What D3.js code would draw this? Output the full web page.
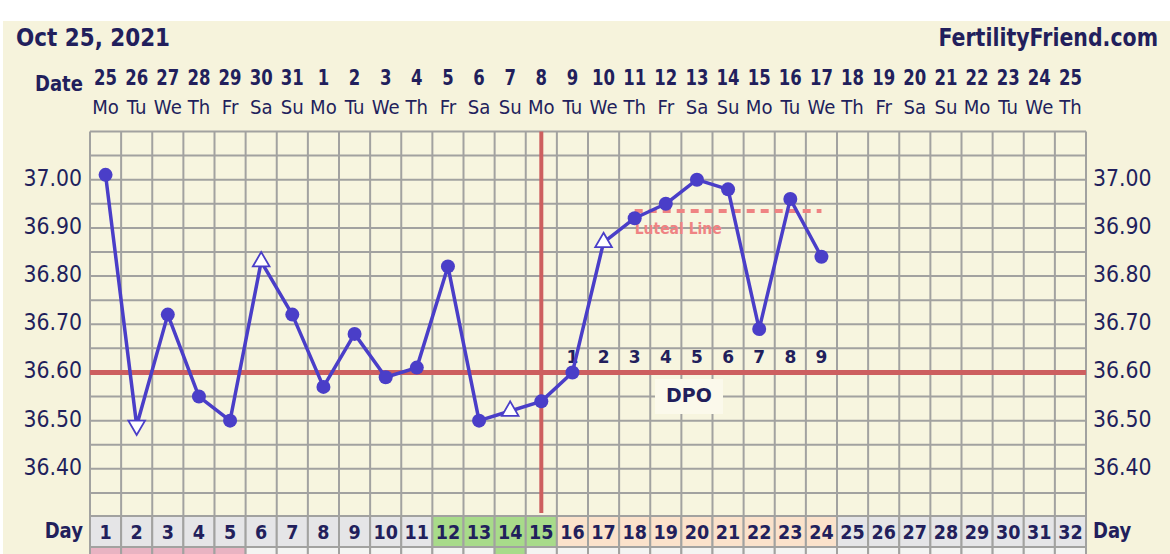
<!DOCTYPE html>
<html>
<head>
<meta charset="utf-8">
<script src="https://cdn.jsdelivr.net/npm/d3@7"></script>
<style>
  body { margin: 0; background: #fff; }
  text { font-family: "DejaVu Sans", Verdana, sans-serif; fill: #221f5c; }
</style>
</head>
<body>
<div id="chart"></div>
<script>
// chart data
var chartDate = "Oct 25, 2021";
var siteName = "FertilityFriend.com";

var cycleDays = ["1","2","3","4","5","6","7","8","9","10","11","12","13","14","15","16",
  "17","18","19","20","21","22","23","24","25","26","27","28","29","30","31","32"];
var dateLabels = ["25","26","27","28","29","30","31","1","2","3","4","5","6","7","8","9",
  "10","11","12","13","14","15","16","17","18","19","20","21","22","23","24","25"];
var weekdays = ["Mo","Tu","We","Th","Fr","Sa","Su","Mo","Tu","We","Th","Fr","Sa","Su","Mo","Tu",
  "We","Th","Fr","Sa","Su","Mo","Tu","We","Th","Fr","Sa","Su","Mo","Tu","We","Th"];

var tempDays = ["1","2","3","4","5","6","7","8","9","10","11","12","13","14","15","16","17","18","19","20","21","22","23","24"];
var temps = [37.01, 36.49, 36.72, 36.55, 36.50, 36.83, 36.72, 36.57, 36.68, 36.59, 36.61, 36.82,
  36.50, 36.52, 36.54, 36.60, 36.87, 36.92, 36.95, 37.00, 36.98, 36.69, 36.96, 36.84];
// c = normal reading, up/down = open triangle markers
var markers = ["c","down","c","c","c","up","c","c","c","c","c","c",
  "c","up","c","c","up","c","c","c","c","c","c","c"];

var tempTicks = [36.40, 36.50, 36.60, 36.70, 36.80, 36.90, 37.00];

var coverline = 36.60;
var ovulationDay = "15";
var lutealLine = 36.935;
var lutealFrom = "18", lutealTo = "24";
var dpoDays = ["16","17","18","19","20","21","22","23","24"];
var dpoLabels = ["1","2","3","4","5","6","7","8","9"];

var fertileDays = ["12","13","14","15"];
var lutealDays = ["16","17","18","19","20","21","22","23","24"];
var periodDays = ["1","2","3","4","5"];
var markedDays = ["14"];

var width = 1170, height = 554;
var grid = {left: 90, right: 1086, top: 131.5, bottom: 517};
var lineColor = "#4a3ec8", red = "#cd5f5f";

var svg = d3.select("#chart").append("svg")
  .attr("width", width)
  .attr("height", height);

// squeeze text horizontally around its anchor, the source font is narrower than DejaVu
function squeeze(sel, sx) {
  sel.each(function() {
    var t = d3.select(this);
    var tx = +t.attr("x"), ty = +t.attr("y");
    t.attr("x", 0).attr("y", 0)
      .attr("transform", "translate(" + tx + "," + ty + ") scale(" + sx + ",1)");
  });
}

svg.append("rect")
  .attr("x", 3).attr("y", 21)
  .attr("width", width - 3).attr("height", height - 21)
  .attr("fill", "#f6f3dc");

var x = d3.scaleBand().domain(cycleDays).range([grid.left, grid.right]);
var y = d3.scaleLinear().domain([36.30, 37.10]).range([grid.bottom, grid.top]);
var cx = function(d) { return x(d) + x.bandwidth() / 2; };

// header
svg.append("text")
  .attr("x", 16).attr("y", 46)
  .style("font-size", "25px").style("font-weight", "bold")
  .text(chartDate)
  .call(squeeze, 0.86);
svg.append("text")
  .attr("x", 1158).attr("y", 46)
  .attr("text-anchor", "end")
  .style("font-size", "25px").style("font-weight", "bold")
  .text(siteName)
  .call(squeeze, 0.82);

svg.append("text")
  .attr("x", 83).attr("y", 91)
  .attr("text-anchor", "end")
  .style("font-size", "21px").style("font-weight", "bold")
  .text("Date")
  .call(squeeze, 0.86);

svg.append("g").selectAll("text")
  .data(cycleDays).enter()
  .append("text")
    .attr("x", cx).attr("y", 85)
    .attr("text-anchor", "middle")
    .style("font-size", "22px").style("font-weight", "bold")
    .text(function(d, i) { return dateLabels[i]; })
    .call(squeeze, 0.75);

svg.append("g").selectAll("text")
  .data(cycleDays).enter()
  .append("text")
    .attr("x", cx).attr("y", 114)
    .attr("text-anchor", "middle")
    .style("font-size", "19.5px")
    .text(function(d, i) { return weekdays[i]; })
    .call(squeeze, 0.93);

// grid
svg.append("rect")
  .attr("x", grid.left).attr("y", grid.top)
  .attr("width", grid.right - grid.left).attr("height", grid.bottom - grid.top)
  .attr("fill", "#f7f5df");

svg.append("g").selectAll("line")
  .data(y.ticks(16)).enter()
  .append("line")
    .attr("x1", grid.left).attr("x2", grid.right)
    .attr("y1", function(d) { return y(d); })
    .attr("y2", function(d) { return y(d); })
    .attr("stroke", "#a2a2a0").attr("stroke-width", 2);

svg.append("g").selectAll("line")
  .data(cycleDays.concat(["end"])).enter()
  .append("line")
    .attr("x1", function(d) { return d == "end" ? grid.right : x(d); })
    .attr("x2", function(d) { return d == "end" ? grid.right : x(d); })
    .attr("y1", grid.top).attr("y2", grid.bottom)
    .attr("stroke", "#a2a2a0").attr("stroke-width", 2);

// temp axis labels, both sides
[{x: 82, anchor: "end"}, {x: 1093, anchor: "start"}].forEach(function(side) {
  svg.append("g").selectAll("text")
    .data(tempTicks).enter()
    .append("text")
      .attr("x", side.x)
      .attr("y", function(d) { return y(d) + 6; })
      .attr("text-anchor", side.anchor)
      .style("font-size", "22.5px")
      .text(function(d) { return d.toFixed(2); })
      .call(squeeze, 0.91);
});

// coverline + ovulation line
svg.append("line")
  .attr("x1", grid.left).attr("x2", grid.right)
  .attr("y1", y(coverline)).attr("y2", y(coverline))
  .attr("stroke", red).attr("stroke-width", 5);

svg.append("line")
  .attr("x1", cx(ovulationDay)).attr("x2", cx(ovulationDay))
  .attr("y1", grid.top).attr("y2", grid.bottom - 4)
  .attr("stroke", red).attr("stroke-width", 4);

// luteal line
svg.append("line")
  .attr("x1", cx(lutealFrom)).attr("x2", cx(lutealTo))
  .attr("y1", y(lutealLine)).attr("y2", y(lutealLine))
  .attr("stroke", "#ef8383").attr("stroke-width", 4)
  .attr("stroke-dasharray", "8,6");

svg.append("text")
  .attr("x", cx(lutealFrom)).attr("y", y(lutealLine) + 23)
  .style("font-size", "15px").style("font-weight", "bold")
  .style("fill", "#ef8383")
  .text("Luteal Line")
  .call(squeeze, 0.93);

// DPO
svg.append("g").selectAll("text")
  .data(dpoDays).enter()
  .append("text")
    .attr("x", cx).attr("y", y(coverline) - 9)
    .attr("text-anchor", "middle")
    .style("font-size", "17px").style("font-weight", "bold")
    .text(function(d, i) { return dpoLabels[i]; });

svg.append("rect")
  .attr("x", 655).attr("y", 379)
  .attr("width", 68).attr("height", 35)
  .attr("fill", "#fbf9eb");
svg.append("text")
  .attr("x", 689).attr("y", 402)
  .attr("text-anchor", "middle")
  .style("font-size", "20px").style("font-weight", "bold")
  .text("DPO")
  .call(squeeze, 0.95);

// temperature line
var tempLine = d3.line()
  .x(function(d, i) { return cx(tempDays[i]); })
  .y(function(d) { return y(d); });

svg.append("path")
  .datum(temps)
  .attr("d", tempLine)
  .attr("fill", "none")
  .attr("stroke", lineColor)
  .attr("stroke-width", 3.5)
  .attr("stroke-linejoin", "round");

var points = svg.append("g").selectAll("g")
  .data(temps).enter()
  .append("g")
    .attr("transform", function(d, i) { return "translate(" + cx(tempDays[i]) + "," + y(d) + ")"; });

points.filter(function(d, i) { return markers[i] == "c"; })
  .append("circle")
    .attr("r", 7)
    .attr("fill", lineColor);

points.filter(function(d, i) { return markers[i] != "c"; })
  .append("path")
    .attr("d", d3.symbol().type(d3.symbolTriangle).size(120))
    .attr("transform", function(d, i) { return markers[temps.indexOf(d)] == "down" ? "rotate(180)" : null; })
    .attr("fill", "#fff")
    .attr("stroke", lineColor)
    .attr("stroke-width", 1.8);

// day row
var dayFill = function(d) {
  if (fertileDays.indexOf(d) > -1) return "#a8db8a";
  if (lutealDays.indexOf(d) > -1) return "#fbe2cb";
  return "#e5e5e7";
};

svg.append("g").selectAll("rect")
  .data(cycleDays).enter()
  .append("rect")
    .attr("x", function(d) { return x(d); })
    .attr("y", 516)
    .attr("width", x.bandwidth()).attr("height", 31)
    .attr("fill", dayFill)
    .attr("stroke", "#a2a2a0").attr("stroke-width", 2);

svg.append("g").selectAll("rect")
  .data(cycleDays).enter()
  .append("rect")
    .attr("x", function(d) { return x(d); })
    .attr("y", 547)
    .attr("width", x.bandwidth()).attr("height", 20)
    .attr("fill", function(d) {
      if (markedDays.indexOf(d) > -1) return "#a8db8a";
      if (periodDays.indexOf(d) > -1) return "#e8b3c2";
      return "#f4f4f2";
    })
    .attr("stroke", "#a2a2a0").attr("stroke-width", 2);

svg.append("g").selectAll("text")
  .data(cycleDays).enter()
  .append("text")
    .attr("x", cx).attr("y", 539)
    .attr("text-anchor", "middle")
    .style("font-size", "19.5px").style("font-weight", "bold")
    .text(function(d) { return d; })
    .call(squeeze, 0.9);

svg.append("text")
  .attr("x", 83).attr("y", 538)
  .attr("text-anchor", "end")
  .style("font-size", "22px").style("font-weight", "bold")
  .text("Day")
  .call(squeeze, 0.82);
svg.append("text")
  .attr("x", 1093).attr("y", 538)
  .style("font-size", "22px").style("font-weight", "bold")
  .text("Day")
  .call(squeeze, 0.82);
</script>
</body>
</html>
